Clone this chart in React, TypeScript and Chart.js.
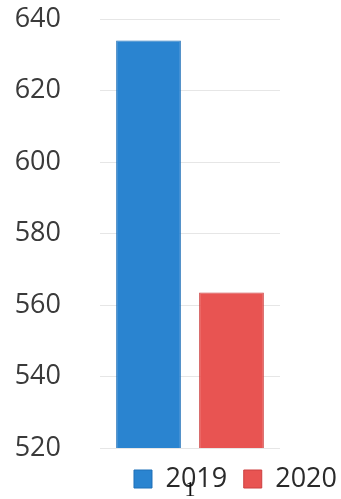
import React, { useEffect, useRef } from "react";
import { Chart, registerables } from "chart.js";

Chart.register(...registerables);

const categories: string[] = ["1"];
const seriesNames: string[] = ["2019", "2020"];
const values2019: number[] = [634];
const values2020: number[] = [563.5];
const yTickMin = 520;
const yTickMax = 640;
const yTickStep = 20;

const BLUE = "#2a84d0";
const BLUE_BORDER = "#1f70b8";
const RED = "#e85452";
const RED_BORDER = "#cc4040";

const extendXAxis = {
  id: "extendXAxis",
  afterLayout(chart: any) {
    const x = chart.scales.x;
    if (x) x.bottom = chart.height;
  },
};

export default function App() {
  const ref = useRef<HTMLCanvasElement | null>(null);

  useEffect(() => {
    if (!ref.current) return;
    const chart = new Chart(ref.current, {
      type: "bar",
      data: {
        labels: categories,
        datasets: [
          {
            label: seriesNames[0],
            data: values2019,
            backgroundColor: BLUE,
            borderColor: BLUE_BORDER,
            borderWidth: 1,
          },
          {
            label: seriesNames[1],
            data: values2020,
            backgroundColor: RED,
            borderColor: RED_BORDER,
            borderWidth: 1,
          },
        ],
      },
      plugins: [extendXAxis],
      options: {
        responsive: false,
        animation: false,
        layout: { padding: { top: 19, left: 0, right: -12.5, bottom: 0 } },
        datasets: {
          bar: { barPercentage: 0.78, categoryPercentage: 0.922 },
        },
        scales: {
          x: {
            grid: { display: false, drawTicks: false },
            border: { display: false },
            ticks: {
              padding: 29,
              color: "#111",
              font: { family: "Liberation Serif", size: 22 },
            },
            afterFit: (s: any) => {
              s.height = 1;
            },
          },
          y: {
            min: yTickMin,
            max: yTickMax,
            grid: { color: "#e6e6e6", lineWidth: 1, drawTicks: false },
            border: { display: false },
            ticks: {
              stepSize: yTickStep,
              padding: 39,
              color: "#3a3a3a",
              font: { family: "Open Sans", size: 27 },
            },
            afterFit: (s: any) => {
              s.width = 100;
              s.paddingTop = 0;
              s.paddingBottom = 0;
            },
          },
          yRight: {
            position: "right",
            display: true,
            grid: { display: false, drawTicks: false },
            border: { display: false },
            ticks: { display: false },
            afterFit: (s: any) => {
              s.width = 73.5;
              s.paddingTop = 0;
              s.paddingBottom = 0;
            },
          },
        },
        plugins: {
          legend: {
            position: "bottom",
            align: "end",
            maxHeight: 50,
            labels: {
              boxWidth: 18,
              boxHeight: 18,
              padding: 16.5,
              color: "#2a2a2a",
              font: { family: "Open Sans", size: 27 },
            },
          },
          tooltip: { enabled: false },
        },
      } as any,
    });
    return () => chart.destroy();
  }, []);

  return (
    <div style={{ position: "fixed", left: 0, top: 0, width: 341, height: 499, background: "#fff" }}>
      <canvas ref={ref} width={341} height={499} style={{ display: "block" }} />
    </div>
  );
}
